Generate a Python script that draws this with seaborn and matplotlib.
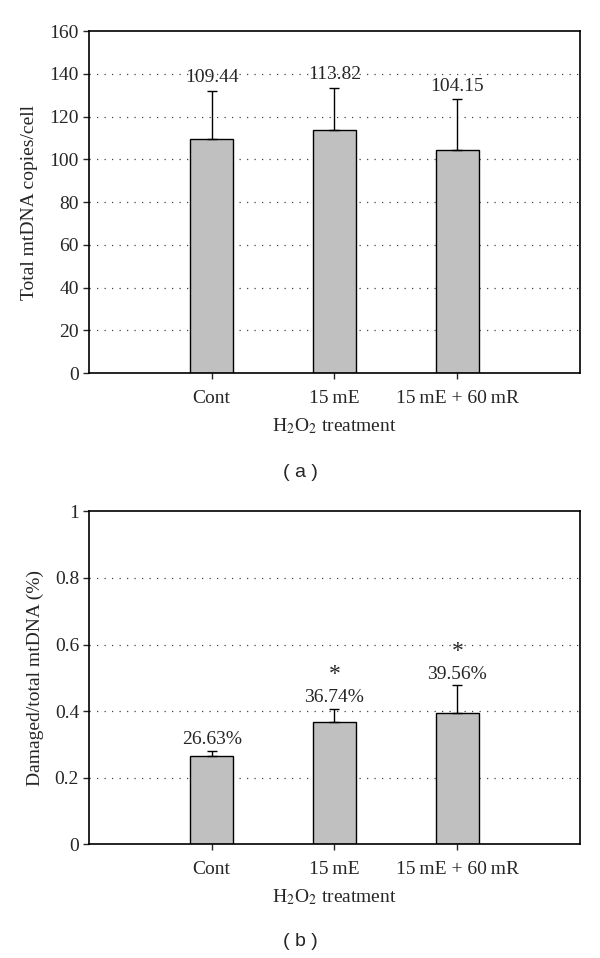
import matplotlib
matplotlib.use('Agg')
import matplotlib.pyplot as plt
import seaborn as sns
import pandas as pd

# data
groups = ['Cont', '15 mE', '15 mE + 60 mR']
tick_labels = ['Cont', '15\u2009mE', '15\u2009mE + 60\u2009mR']
copies = [109.44, 113.82, 104.15]
copies_err = [22.7, 19.7, 24.1]
damaged = [0.2663, 0.3674, 0.3956]
damaged_err = [0.015, 0.040, 0.082]
damaged_labels = ['26.63%', '36.74%', '39.56%']
damaged_star = [False, True, True]

sns.set_style('ticks')
plt.rcParams['font.family'] = ['Liberation Serif', 'DejaVu Serif']
plt.rcParams['mathtext.fontset'] = 'stix'
plt.rcParams['font.size'] = 14

fig = plt.figure(figsize=(6, 9.58), dpi=100)
ax_a = fig.add_axes([0.148, 0.6106, 0.819, 0.357])
ax_b = fig.add_axes([0.148, 0.1186, 0.819, 0.3476])


def draw_panel(ax, values, errs, ymax, step, ylabel):
    df = pd.DataFrame({'group': groups, 'value': values})
    sns.barplot(data=df, x='group', y='value', order=groups, color='#c0c0c0',
                edgecolor='black', linewidth=1, width=0.35, saturation=1,
                errorbar=None, ax=ax, zorder=2)
    ax.errorbar(range(len(groups)), values, yerr=[[0] * len(errs), errs],
                fmt='none', ecolor='black', elinewidth=1, capsize=3.6,
                capthick=1, zorder=3)
    ax.set_xlim(-1, 3)
    ax.set_ylim(0, ymax)
    ticks = [i * step for i in range(int(round(ymax / step)) + 1)]
    ax.set_yticks(ticks)
    for t in ticks[1:-1]:
        ax.axhline(t, color='#444444', lw=0.9, ls=(0, (1, 5)), zorder=1)
    ax.set_xticks(range(len(groups)))
    ax.set_xticklabels(tick_labels, fontsize=14)
    ax.set_xlabel(r'H$_2$O$_2$ treatment', fontsize=14, labelpad=7)
    ax.set_ylabel(ylabel, fontsize=14, labelpad=8)
    ax.tick_params(axis='y', direction='out', length=4, width=1, labelsize=14, pad=3)
    ax.tick_params(axis='x', direction='out', length=4, width=1, pad=8)
    for s in ax.spines.values():
        s.set_visible(True)
        s.set_color('black')
        s.set_linewidth(1.2)


draw_panel(ax_a, copies, copies_err, 160, 20, 'Total mtDNA copies/cell')
ax_a.set_yticklabels([str(t) for t in range(0, 161, 20)])
for i, (v, e) in enumerate(zip(copies, copies_err)):
    ax_a.annotate(f'{v:.2f}', (i, v + e), xytext=(0, 3), textcoords='offset points',
                  ha='center', va='bottom', fontsize=14)

draw_panel(ax_b, damaged, damaged_err, 1.0, 0.2, 'Damaged/total mtDNA (%)')
ax_b.set_yticklabels(['0', '0.2', '0.4', '0.6', '0.8', '1'])
for i, (v, e) in enumerate(zip(damaged, damaged_err)):
    ax_b.annotate(damaged_labels[i], (i, v + e), xytext=(0, 2), textcoords='offset points',
                  ha='center', va='bottom', fontsize=14)
    if damaged_star[i]:
        ax_b.annotate('*', (i, v + e), xytext=(0, 17), textcoords='offset points',
                      ha='center', va='bottom', fontsize=17)

fig.text(0.5, 1 - 472 / 958, '( a )', ha='center', va='center', fontsize=14,
         family=['Liberation Sans', 'DejaVu Sans'])
fig.text(0.5, 1 - 942 / 958, '( b )', ha='center', va='center', fontsize=14,
         family=['Liberation Sans', 'DejaVu Sans'])

fig.savefig('out.png', dpi=100, facecolor='white')
